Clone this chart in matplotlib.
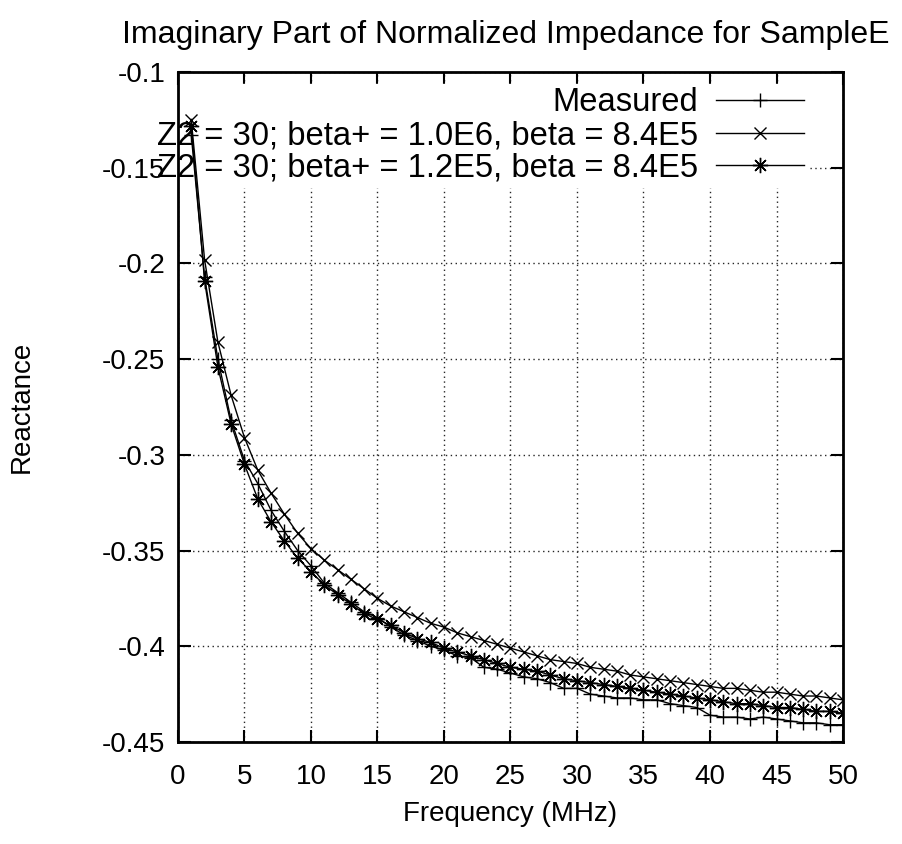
import numpy as np
import matplotlib
matplotlib.use("Agg")
import matplotlib.pyplot as plt


# -----------------------------
# Data
# -----------------------------
freq_mhz = list(range(1, 51))

measured = [
    -0.133, -0.207, -0.250, -0.282, -0.303, -0.315, -0.329, -0.340, -0.350, -0.358,
    -0.367, -0.372, -0.377, -0.382, -0.385, -0.390, -0.394, -0.397, -0.400, -0.402,
    -0.405, -0.406, -0.411, -0.412, -0.414, -0.416, -0.417, -0.419, -0.422, -0.422,
    -0.425, -0.426, -0.427, -0.427, -0.428, -0.428, -0.430, -0.431, -0.432, -0.436,
    -0.437, -0.437, -0.438, -0.437, -0.438, -0.439, -0.440, -0.440, -0.441, -0.441,
]

model_beta_1e6 = [
    -0.125, -0.198, -0.241, -0.269, -0.291, -0.308, -0.320, -0.331, -0.341, -0.349,
    -0.355, -0.360, -0.365, -0.370, -0.375, -0.379, -0.382, -0.385, -0.388, -0.390,
    -0.393, -0.395, -0.397, -0.399, -0.401, -0.403, -0.405, -0.407, -0.408, -0.409,
    -0.411, -0.412, -0.413, -0.415, -0.416, -0.417, -0.418, -0.419, -0.420, -0.421,
    -0.422, -0.422, -0.423, -0.424, -0.424, -0.425, -0.426, -0.426, -0.427, -0.428,
]

model_beta_1_2e5 = [
    -0.128, -0.209, -0.254, -0.284, -0.305, -0.323, -0.335, -0.345, -0.354, -0.361,
    -0.368, -0.373, -0.378, -0.383, -0.386, -0.389, -0.393, -0.396, -0.398, -0.401,
    -0.403, -0.405, -0.407, -0.409, -0.411, -0.412, -0.413, -0.415, -0.417, -0.418,
    -0.419, -0.420, -0.421, -0.422, -0.423, -0.424, -0.425, -0.426, -0.427, -0.428,
    -0.429, -0.430, -0.430, -0.431, -0.432, -0.432, -0.433, -0.434, -0.434, -0.435,
]

labels = [
    "Measured",
    "Z2 = 30; beta+ = 1.0E6, beta = 8.4E5",
    "Z2 = 30; beta+ = 1.2E5, beta = 8.4E5",
]

x_ticks = list(range(0, 51, 5))
y_ticks = [-0.45, -0.4, -0.35, -0.3, -0.25, -0.2, -0.15, -0.1]


# -----------------------------
# Plot
# -----------------------------
plt.rcParams["font.family"] = ["Liberation Sans", "DejaVu Sans"]
plt.rcParams["axes.unicode_minus"] = False

fig = plt.figure(figsize=(9.02, 8.44), dpi=100)
ax = fig.add_axes([0.1973, 0.1209, 0.7373, 0.7938])

style = dict(color="black", lw=1.0, markersize=10, markeredgewidth=1.0)
ax.plot(freq_mhz, measured, marker="+", label=labels[0], zorder=3, **style)
ax.plot(freq_mhz, model_beta_1e6, marker="x", label=labels[1], zorder=3,
        **{**style, "markersize": 9})
ax.plot(freq_mhz, model_beta_1_2e5, marker=(8, 2, 0), label=labels[2], zorder=3,
        **{**style, "markersize": 11})

ax.set_xlim(0, 50)
ax.set_ylim(-0.45, -0.1)
ax.set_xticks(x_ticks)
ax.set_yticks(y_ticks)
ax.set_yticklabels(["%g" % v for v in y_ticks])

ax.set_axisbelow(True)
ax.grid(True, color="0.15", linestyle=(0, (1, 2.5)), lw=1.0)

ax.tick_params(direction="in", length=9, width=1.5, labelsize=20,
               top=True, right=True)
ax.tick_params(axis="x", pad=16)
ax.tick_params(axis="y", pad=9)
for s in ax.spines.values():
    s.set_linewidth(2)

ax.set_title("Imaginary Part of Normalized Impedance for SampleE", fontsize=23,
             pad=21, x=0.4925)
ax.set_xlabel("Frequency (MHz)", fontsize=20, labelpad=8)
ax.set_ylabel("Reactance", fontsize=20)
ax.yaxis.set_label_coords(-0.215, 0.5)

# gnuplot-like key: text right-aligned, samples on the right,
# opaque box that hides the grid but stays inside the plot area
leg = ax.legend(loc="upper right", bbox_to_anchor=(0.947, 0.982), fontsize=23.6,
                markerfirst=False, frameon=True, fancybox=False, framealpha=1,
                edgecolor="white", borderpad=0.1, borderaxespad=0,
                handlelength=2.71, handletextpad=0.55, labelspacing=0.055)
leg.set_zorder(2.2)
leg.get_frame().set_clip_box(ax.bbox)
leg.get_frame().set_clip_on(True)

fig.savefig("out.png", dpi=100)
